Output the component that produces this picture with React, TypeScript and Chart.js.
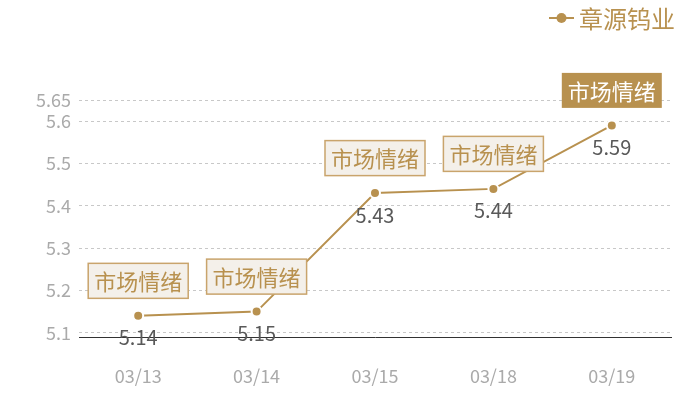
import React, { useEffect, useRef } from 'react';
import { Chart, ChartConfiguration, Plugin, registerables } from 'chart.js';

Chart.register(...registerables);

const dates = ['03/13', '03/14', '03/15', '03/18', '03/19'];
const prices = [5.14, 5.15, 5.43, 5.44, 5.59];
const markTexts = ['市场情绪', '市场情绪', '市场情绪', '市场情绪', '市场情绪'];
const markHighlighted = [false, false, false, false, true];
const yTicks = [5.1, 5.2, 5.3, 5.4, 5.5, 5.6, 5.65];
const seriesName = '章源钨业';

const GOLD = '#b8914f';
const FONT = '"Noto Sans CJK SC", "Noto Sans", sans-serif';

// value labels, sentiment boxes and the legend at the top right
const overlayPlugin: Plugin<'line'> = {
    id: 'overlay',
    afterDatasetsDraw(chart) {
        const ctx = chart.ctx;
        const meta = chart.getDatasetMeta(0);
        ctx.save();
        meta.data.forEach((pt, i) => {
            const { x, y } = pt.getProps(['x', 'y'], true) as { x: number; y: number };

            ctx.font = `20px ${FONT}`;
            ctx.fillStyle = '#595959';
            ctx.textAlign = 'center';
            ctx.textBaseline = 'middle';
            ctx.fillText(String(prices[i]), x, y + 22);

            ctx.font = `22px ${FONT}`;
            const w = ctx.measureText(markTexts[i]).width + 12;
            const h = 35;
            const cy = y - 35;
            const left = x - w / 2;
            const top = cy - h / 2;
            if (markHighlighted[i]) {
                ctx.fillStyle = GOLD;
                ctx.fillRect(left, top, w, h);
                ctx.fillStyle = '#ffffff';
            } else {
                ctx.fillStyle = '#f4f0ea';
                ctx.fillRect(left, top, w, h);
                ctx.strokeStyle = '#c9a46c';
                ctx.lineWidth = 1.5;
                ctx.strokeRect(left, top, w, h);
                ctx.fillStyle = GOLD;
            }
            ctx.fillText(markTexts[i], x, cy + 1);
        });

        // legend
        const ly = 18;
        ctx.strokeStyle = GOLD;
        ctx.lineWidth = 2;
        ctx.beginPath();
        ctx.moveTo(549, ly);
        ctx.lineTo(574, ly);
        ctx.stroke();
        ctx.fillStyle = GOLD;
        ctx.beginPath();
        ctx.arc(561.5, ly, 5, 0, Math.PI * 2);
        ctx.fill();
        ctx.font = `24px ${FONT}`;
        ctx.textAlign = 'left';
        ctx.textBaseline = 'middle';
        ctx.fillText(seriesName, 579, ly + 1);
        ctx.restore();
    },
};

const App: React.FC = () => {
    const canvasRef = useRef<HTMLCanvasElement>(null);
    const chartRef = useRef<Chart | null>(null);

    useEffect(() => {
        if (!canvasRef.current) return;
        if (chartRef.current) {
            chartRef.current.destroy();
        }
        const ctx = canvasRef.current.getContext('2d');
        if (!ctx) return;

        const config: ChartConfiguration<'line'> = {
            type: 'line',
            data: {
                labels: dates,
                datasets: [{
                    label: seriesName,
                    data: prices,
                    borderColor: GOLD,
                    borderWidth: 2,
                    backgroundColor: GOLD,
                    pointBackgroundColor: GOLD,
                    pointBorderColor: '#ffffff',
                    pointBorderWidth: 2,
                    pointRadius: 5,
                    tension: 0,
                }]
            },
            options: {
                animation: false,
                responsive: true,
                maintainAspectRatio: false,
                layout: { padding: { top: 100, right: 29, left: 0, bottom: 0 } },
                plugins: {
                    legend: { display: false },
                    tooltip: { enabled: false }
                },
                scales: {
                    x: {
                        offset: true,
                        grid: { display: false },
                        border: { display: true, color: '#333333', width: 1 },
                        ticks: {
                            color: '#aaaaaa',
                            padding: 20,
                            font: { size: 18, family: FONT }
                        },
                        afterFit: (scale) => { scale.height = 63; }
                    },
                    y: {
                        min: 5.09,
                        max: 5.65,
                        border: { display: false, dash: [3, 3] },
                        grid: {
                            color: '#c8c8c8',
                            drawTicks: false,
                        },
                        ticks: {
                            color: '#aaaaaa',
                            padding: 8,
                            font: { size: 18, family: FONT },
                            callback: (v) => String(Number(v))
                        },
                        afterBuildTicks: (scale) => {
                            scale.ticks = yTicks.map((v) => ({ value: v }));
                        },
                        afterFit: (scale) => { scale.width = 79; }
                    }
                }
            },
            plugins: [overlayPlugin]
        };

        chartRef.current = new Chart(ctx, config);

        return () => {
            if (chartRef.current) {
                chartRef.current.destroy();
            }
        };
    }, []);

    return (
        <div style={{ position: 'absolute', left: 0, top: 0, width: 700, height: 400 }}>
            <canvas ref={canvasRef} />
        </div>
    );
};

export default App;
